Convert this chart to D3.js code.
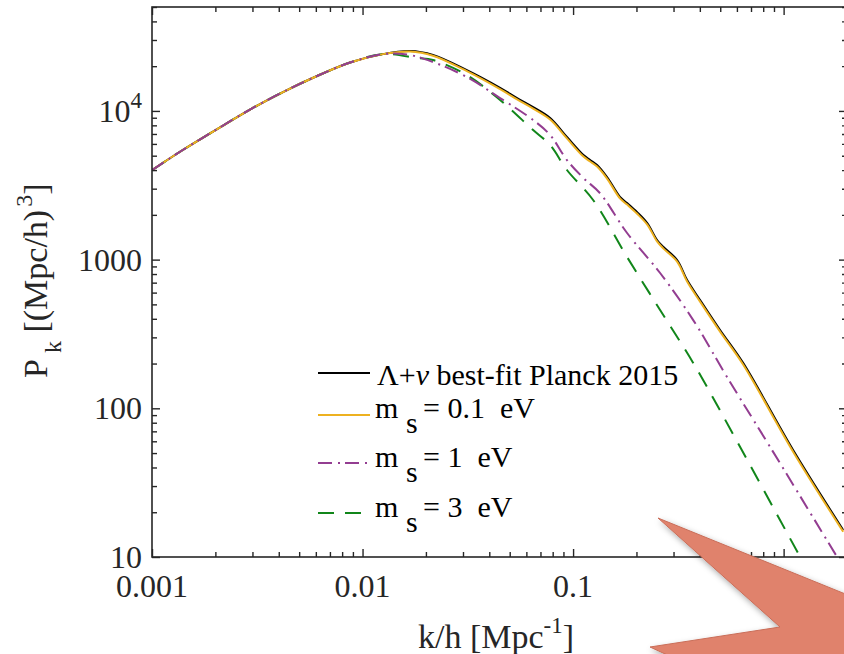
<!DOCTYPE html>
<html>
<head>
<meta charset="utf-8">
<script src="https://cdn.jsdelivr.net/npm/d3@7"></script>
<style>
body { margin: 0; background: #fff; }
svg { display: block; font-family: "Liberation Serif", "Times New Roman", serif; }
</style>
</head>
<body>
<div id="chart"></div>
<script>
// Λ+ν best-fit Planck 2015 (black)
const kBest = [0.001, 0.0014, 0.00204, 0.00292, 0.00419, 0.00608, 0.00873, 0.0125, 0.0168, 0.0216, 0.0313, 0.045, 0.0542, 0.0646, 0.0778, 0.0935, 0.112, 0.1205, 0.130, 0.145, 0.167, 0.1805, 0.201, 0.225, 0.251, 0.268, 0.312, 0.348, 0.401, 0.499, 0.642, 1.109, 1.918];
const pBest = [4000, 5460, 7550, 10220, 13400, 17170, 21160, 24100, 25300, 23800, 18800, 14300, 12200, 10600, 8960, 6680, 5050, 4680, 4330, 3590, 2640, 2400, 2090, 1760, 1350, 1220, 994, 729, 535, 336, 202, 52.4, 15.2];
// m_s = 0.1 eV (yellow), same k grid
const pMs01 = [4000, 5460, 7550, 10220, 13400, 17170, 21160, 24100, 25100, 23500, 18500, 14000, 11950, 10380, 8760, 6530, 4930, 4570, 4230, 3510, 2580, 2345, 2040, 1720, 1320, 1190, 970, 712, 522, 328, 197, 51.1, 14.8];
// m_s = 1 eV (purple dash-dot)
const kMs1 = [0.001, 0.0014, 0.00204, 0.00292, 0.00419, 0.00608, 0.00873, 0.0125, 0.0168, 0.0216, 0.0313, 0.045, 0.0646, 0.0778, 0.0935, 0.112, 0.134, 0.1805, 0.259, 0.372, 0.539, 0.863, 1.795];
const pMs1 = [4000, 5460, 7550, 10220, 13400, 17170, 21160, 24100, 23760, 21330, 16900, 12210, 8690, 6885, 4675, 3538, 2805, 1510, 813, 392, 162, 54.9, 10];
// m_s = 3 eV (green dashed)
const kMs3 = [0.001, 0.0014, 0.00204, 0.00292, 0.00419, 0.00608, 0.00873, 0.0125, 0.01815, 0.0216, 0.0313, 0.045, 0.0646, 0.0778, 0.0935, 0.1245, 0.1805, 0.259, 0.372, 0.6215, 1.198];
const pMs3 = [4000, 5460, 7550, 10220, 13400, 17170, 21160, 24100, 22690, 21990, 17430, 11840, 7439, 5899, 4005, 2517, 1041, 458, 202, 54.9, 10];

const xTickVals = [0.001, 0.01, 0.1, 1];
const xTickLabels = ["0.001", "0.01", "0.1", "1"];
const yTickVals = [10, 100, 1000, 10000];
const yTickLabels = ["10", "100", "1000", "10^4"];
const msLabels = ["0.1", "1", "3"];

const width = 844, height = 654;
const ink = "#262626";

const svg = d3.select("#chart").append("svg")
	.attr("width", width)
	.attr("height", height);

const x = d3.scaleLog().domain([0.001, 2]).range([152, 847]);
const y = d3.scaleLog().domain([10, 5e4]).range([557, 7]);

svg.append("clipPath").attr("id", "plot-clip")
	.append("rect")
	.attr("x", x.range()[0]).attr("y", y.range()[1])
	.attr("width", x.range()[1] - x.range()[0])
	.attr("height", y.range()[0] - y.range()[1]);

// curves
const series = [
	{ k: kBest, p: pBest, color: "#000000", w: 2, dash: null },
	{ k: kMs3, p: pMs3, color: "#11861a", w: 2, dash: "16,11" },
	{ k: kBest, p: pMs01, color: "#EDB120", w: 2, dash: null },
	{ k: kMs1, p: pMs1, color: "#933d91", w: 2, dash: "14,6,2,5" }
];

const line = d3.line()
	.x(d => x(d[0]))
	.y(d => y(d[1]))
	.curve(d3.curveCatmullRom.alpha(0.5));

const curves = svg.append("g").attr("clip-path", "url(#plot-clip)");
series.forEach(s => {
	curves.append("path")
		.datum(s.k.map((k, i) => [k, s.p[i]]))
		.attr("fill", "none")
		.attr("stroke", s.color)
		.attr("stroke-width", s.w)
		.attr("stroke-dasharray", s.dash)
		.attr("d", line);
});

// ticks on all four sides, pointing inward
const xMinor = x.ticks().filter(v => !xTickVals.some(t => Math.abs(t - v) < 1e-9));
const yMinor = y.ticks().filter(v => !yTickVals.includes(v));

function tickSide(axisFn, scale, vals, size, tr) {
	svg.append("g")
		.attr("transform", tr)
		.call(axisFn(scale).tickValues(vals).tickSizeInner(-size).tickSizeOuter(0).tickFormat(""))
		.call(g => g.select(".domain").remove())
		.call(g => g.selectAll("line").attr("stroke", ink).attr("stroke-width", 1.4));
}
const [x0, x1] = x.range();
const [y0, y1] = y.range();
tickSide(d3.axisBottom, x, xTickVals, 8, `translate(0,${y0})`);
tickSide(d3.axisBottom, x, xMinor, 5, `translate(0,${y0})`);
tickSide(d3.axisTop, x, xTickVals, 8, `translate(0,${y1})`);
tickSide(d3.axisTop, x, xMinor, 5, `translate(0,${y1})`);
tickSide(d3.axisLeft, y, yTickVals, 8, `translate(${x0},0)`);
tickSide(d3.axisLeft, y, yMinor, 5, `translate(${x0},0)`);
tickSide(d3.axisRight, y, yTickVals, 8, `translate(${x1},0)`);
tickSide(d3.axisRight, y, yMinor, 5, `translate(${x1},0)`);

svg.append("rect")
	.attr("x", x0).attr("y", y1)
	.attr("width", x1 - x0).attr("height", y0 - y1)
	.attr("fill", "none")
	.attr("stroke", ink)
	.attr("stroke-width", 1.6);

// tick labels
svg.append("g").selectAll("text")
	.data(xTickVals)
	.join("text")
	.attr("x", d => x(d))
	.attr("y", y0 + 40)
	.attr("text-anchor", "middle")
	.attr("font-size", 32)
	.attr("fill", ink)
	.text((d, i) => xTickLabels[i]);

const yLab = svg.append("g").selectAll("text")
	.data(yTickVals)
	.join("text")
	.attr("x", x0 - 10)
	.attr("y", d => y(d) + 11)
	.attr("text-anchor", "end")
	.attr("font-size", 32)
	.attr("fill", ink);
yLab.each(function (d, i) {
	const t = d3.select(this);
	const lab = yTickLabels[i];
	if (lab.includes("^")) {
		const [b, e] = lab.split("^");
		t.append("tspan").text(b);
		t.append("tspan").attr("dy", -14).attr("font-size", 23).text(e);
	} else {
		t.text(lab);
	}
});

// axis titles
const xt = svg.append("text")
	.attr("x", 418).attr("y", 648)
	.attr("font-size", 34)
	.attr("fill", ink);
xt.append("tspan").text("k/h [Mpc");
xt.append("tspan").attr("dy", -15).attr("font-size", 23).text("-1");
xt.append("tspan").attr("dy", 15).text("]");

const yt = svg.append("text")
	.attr("transform", "translate(47,378) rotate(-90)")
	.attr("font-size", 34)
	.attr("fill", ink);
yt.append("tspan").text("P");
yt.append("tspan").attr("dx", 6).attr("dy", 14).attr("font-size", 24).text("k");
yt.append("tspan").attr("dy", -14).text(" [(Mpc/h)");
yt.append("tspan").attr("dx", 3).attr("dy", -15).attr("font-size", 24).text("3");
yt.append("tspan").attr("dy", 15).text("]");

// legend
const legendRows = [
	{ ly: 373, by: 385, color: "#000000", dash: null },
	{ ly: 415, by: 418, color: "#EDB120", dash: null },
	{ ly: 463, by: 467, color: "#933d91", dash: "14,6,2,5" },
	{ ly: 513, by: 517, color: "#11861a", dash: "16,11" }
];
const leg = svg.append("g");
legendRows.forEach((r, i) => {
	leg.append("line")
		.attr("x1", 318).attr("x2", 370)
		.attr("y1", r.ly).attr("y2", r.ly)
		.attr("stroke", r.color)
		.attr("stroke-width", 2)
		.attr("stroke-dasharray", r.dash);
	if (i === 0) {
		const t = leg.append("text").attr("x", 377).attr("y", r.by).attr("font-size", 30).attr("fill", "#000");
		t.append("tspan").text("\u039B+");
		t.append("tspan").attr("font-style", "italic").text("\u03BD");
		t.append("tspan").text(" best-fit Planck 2015");
	} else {
		const t = leg.append("text").attr("y", r.by).attr("font-size", 30).attr("fill", "#000")
			.style("white-space", "pre");
		t.append("tspan").attr("x", 375).text("m");
		t.append("tspan").attr("x", 406).attr("dy", 15).text("s");
		t.append("tspan").attr("x", 423).attr("dy", -15).text("= " + msLabels[i - 1] + "  eV");
	}
});

// salmon callout shape over the corner
const calloutPts = [[658, 518], [870, 604], [870, 670], [700, 670], [650, 647], [780, 627]];
const defs = svg.append("defs");
const f = defs.append("filter").attr("id", "shadow").attr("x", "-20%").attr("y", "-20%").attr("width", "140%").attr("height", "140%");
f.append("feDropShadow").attr("dx", 2).attr("dy", 3).attr("stdDeviation", 3).attr("flood-color", "#000").attr("flood-opacity", 0.35);
svg.append("polygon")
	.attr("points", calloutPts.map(p => p.join(",")).join(" "))
	.attr("fill", "#E0826C")
	.attr("stroke", "#c96e59")
	.attr("stroke-width", 1)
	.attr("filter", "url(#shadow)");
</script>
</body>
</html>
